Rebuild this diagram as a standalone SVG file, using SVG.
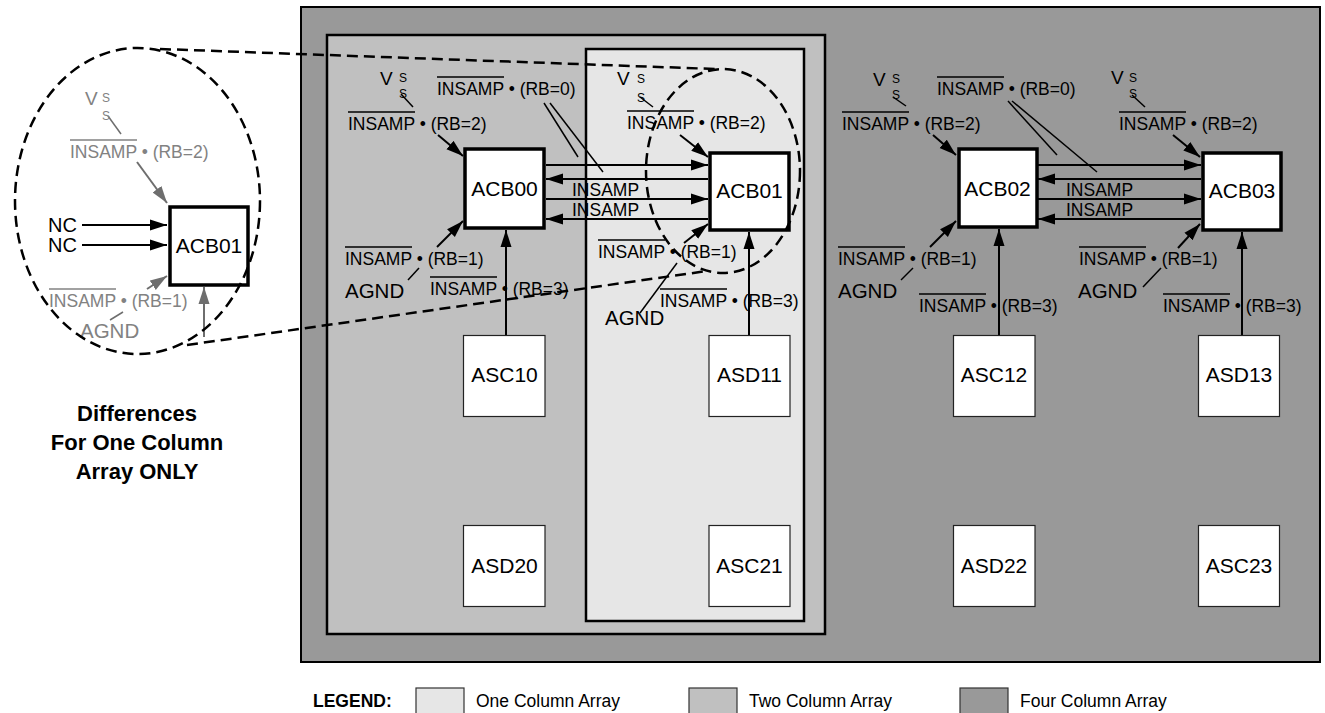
<svg xmlns="http://www.w3.org/2000/svg" width="1325" height="713" viewBox="0 0 1325 713">
<defs>
<marker id="ah" markerUnits="userSpaceOnUse" markerWidth="18" markerHeight="12" refX="17" refY="6" orient="auto"><path d="M0,0.5 L17,6 L0,11.5 z" fill="#000"/></marker>
<marker id="ahg" markerUnits="userSpaceOnUse" markerWidth="18" markerHeight="12" refX="17" refY="6" orient="auto"><path d="M0,0.5 L17,6 L0,11.5 z" fill="#6e6e6e"/></marker>
<style>
text{font-family:"Liberation Sans",Arial,sans-serif;fill:#000}
.l{font-size:17.5px}
.big{font-size:20.5px}
.nc{font-size:20px}
.s{font-size:12px}
.v{font-size:19px}
.bx{font-size:21px;text-anchor:middle}
.g{fill:#828282}
.ol{stroke:#000;stroke-width:1.3}
.olg{stroke:#828282;stroke-width:1.3}
.acb{fill:#fff;stroke:#000;stroke-width:3.5}
.as{fill:#fff;stroke:#222;stroke-width:1.2}
.c{stroke:#000;stroke-width:2;fill:none}
.cg{stroke:#6e6e6e;stroke-width:2;fill:none}
.ld{stroke:#000;stroke-width:1.5}
.ldg{stroke:#6e6e6e;stroke-width:1.5}
.dash{fill:none;stroke:#000;stroke-width:2.5;stroke-dasharray:11 6}
.lg{font-size:17.5px}
.lgb{font-size:17.5px;font-weight:bold}
.cap{font-size:22px;font-weight:bold;text-anchor:middle}
</style>
</defs>
<rect width="1325" height="713" fill="#fff"/>

<g id="regions">
<rect x="301" y="7" width="1019" height="655" fill="#999999" stroke="#000" stroke-width="2"/>
<rect x="327" y="35" width="498" height="599" fill="#c0c0c0" stroke="#000" stroke-width="2.5"/>
<rect x="586" y="49" width="218" height="572" fill="#e6e6e6" stroke="#000" stroke-width="2.5"/>
</g>

<g id="connectors">
<line class="c" x1="546" y1="165" x2="708" y2="165" marker-end="url(#ah)"/>
<line class="c" x1="708" y1="179" x2="546" y2="179" marker-end="url(#ah)"/>
<line class="c" x1="546" y1="199" x2="708" y2="199" marker-end="url(#ah)"/>
<line class="c" x1="708" y1="219" x2="546" y2="219" marker-end="url(#ah)"/>
<line class="c" x1="1038" y1="165" x2="1201" y2="165" marker-end="url(#ah)"/>
<line class="c" x1="1201" y1="179" x2="1038" y2="179" marker-end="url(#ah)"/>
<line class="c" x1="1038" y1="199" x2="1201" y2="199" marker-end="url(#ah)"/>
<line class="c" x1="1201" y1="219" x2="1038" y2="219" marker-end="url(#ah)"/>
<line class="c" x1="506" y1="335" x2="506" y2="230" marker-end="url(#ah)"/>
<line class="c" x1="749" y1="335" x2="749" y2="232" marker-end="url(#ah)"/>
<line class="c" x1="999" y1="335" x2="999" y2="229" marker-end="url(#ah)"/>
<line class="c" x1="1242" y1="335" x2="1242" y2="232" marker-end="url(#ah)"/>
<line class="c" x1="438" y1="135" x2="463" y2="156" marker-end="url(#ah)"/>
<line class="c" x1="437" y1="247" x2="463" y2="221" marker-end="url(#ah)"/>
<line class="c" x1="680" y1="135" x2="708" y2="157" marker-end="url(#ah)"/>
<line class="c" x1="684" y1="243" x2="708" y2="224" marker-end="url(#ah)"/>
<line class="c" x1="933" y1="135" x2="956" y2="155" marker-end="url(#ah)"/>
<line class="c" x1="930" y1="247" x2="956" y2="221" marker-end="url(#ah)"/>
<line class="c" x1="1173" y1="135" x2="1200" y2="157" marker-end="url(#ah)"/>
<line class="c" x1="1178" y1="248" x2="1200" y2="224" marker-end="url(#ah)"/>
<line class="ld" x1="408" y1="280" x2="419" y2="268"/>
<line class="ld" x1="544" y1="103" x2="578" y2="157"/>
<line class="ld" x1="550" y1="103" x2="603" y2="172"/>
<line class="ld" x1="640" y1="313" x2="677" y2="263"/>
<line class="ld" x1="901" y1="280" x2="913" y2="268"/>
<line class="ld" x1="1008" y1="101" x2="1057" y2="155"/>
<line class="ld" x1="1012" y1="101" x2="1097" y2="172"/>
<line class="ld" x1="1143" y1="287" x2="1161" y2="268"/>
<line class="ld" x1="401" y1="94" x2="413" y2="107"/>
<line class="ld" x1="640" y1="97" x2="653" y2="107"/>
<line class="ld" x1="893" y1="97" x2="906" y2="106"/>
<line class="ld" x1="1132" y1="95" x2="1145" y2="107"/>
<line class="ldg" x1="108" y1="116" x2="121" y2="134"/>
<line class="cg" x1="137" y1="162" x2="167" y2="203" marker-end="url(#ahg)"/>
<line class="c" x1="82" y1="225" x2="167" y2="225" marker-end="url(#ah)"/>
<line class="c" x1="82" y1="245" x2="167" y2="245" marker-end="url(#ah)"/>
<line class="cg" x1="147" y1="289" x2="167" y2="276" marker-end="url(#ahg)"/>
<line class="cg" x1="204" y1="337" x2="204" y2="287" marker-end="url(#ahg)"/>
<line class="ldg" x1="110" y1="320" x2="123" y2="312"/>
</g>

<g id="ACB00">
<rect class="acb" x="465" y="149" width="79" height="79"/>
<text class="bx" x="504.5" y="196">ACB00</text>
</g>
<g id="ACB01">
<rect class="acb" x="710" y="153" width="79" height="77"/>
<text class="bx" x="749.5" y="198">ACB01</text>
</g>
<g id="ACB02">
<rect class="acb" x="959" y="149" width="78" height="78"/>
<text class="bx" x="997.5" y="196">ACB02</text>
</g>
<g id="ACB03">
<rect class="acb" x="1203" y="153" width="78" height="77"/>
<text class="bx" x="1242" y="198">ACB03</text>
</g>
<g id="ASC10"><rect class="as" x="463.5" y="335.5" width="81.5" height="81"/><text class="bx" x="504.5" y="382">ASC10</text></g>
<g id="ASD11"><rect class="as" x="709" y="335.5" width="81" height="81"/><text class="bx" x="749.5" y="382">ASD11</text></g>
<g id="ASC12"><rect class="as" x="953.5" y="335.5" width="81.5" height="81"/><text class="bx" x="994" y="382">ASC12</text></g>
<g id="ASD13"><rect class="as" x="1198.5" y="335.5" width="81" height="81"/><text class="bx" x="1239" y="382">ASD13</text></g>
<g id="ASD20"><rect class="as" x="463.5" y="525.5" width="81.5" height="81"/><text class="bx" x="504.5" y="573">ASD20</text></g>
<g id="ASC21"><rect class="as" x="709" y="525.5" width="81" height="81"/><text class="bx" x="749.5" y="573">ASC21</text></g>
<g id="ASD22"><rect class="as" x="953.5" y="525.5" width="81.5" height="81"/><text class="bx" x="994" y="573">ASD22</text></g>
<g id="ASC23"><rect class="as" x="1198.5" y="525.5" width="81" height="81"/><text class="bx" x="1239" y="573">ASC23</text></g>

<g id="labels-ACB00">
<text class="v" x="380" y="85">V</text><text class="s" x="399" y="82">S</text><text class="s" x="399" y="98">S</text>
<text class="l" x="348" y="130">INSAMP • (RB=2)</text><line class="ol" x1="348" y1="112" x2="415" y2="112"/>
<text class="l" x="437" y="95">INSAMP • (RB=0)</text><line class="ol" x1="437" y1="77" x2="504" y2="77"/>
<text class="l" x="345" y="265">INSAMP • (RB=1)</text><line class="ol" x1="345" y1="247" x2="412" y2="247"/>
<text class="big" x="345" y="298">AGND</text>
<text class="l" x="430" y="295">INSAMP • (RB=3)</text><line class="ol" x1="430" y1="277" x2="497" y2="277"/>
<text class="l" x="572" y="196">INSAMP</text>
<text class="l" x="572" y="216">INSAMP</text>
</g>
<g id="labels-ACB01">
<text class="v" x="617" y="85">V</text><text class="s" x="637" y="83">S</text><text class="s" x="637" y="102">S</text>
<text class="l" x="627" y="129">INSAMP • (RB=2)</text><line class="ol" x1="627" y1="111" x2="694" y2="111"/>
<text class="l" x="598" y="258">INSAMP • (RB=1)</text><line class="ol" x1="598" y1="240" x2="665" y2="240"/>
<text class="big" x="605" y="325">AGND</text>
<text class="l" x="660" y="307">INSAMP • (RB=3)</text><line class="ol" x1="660" y1="289" x2="727" y2="289"/>
</g>
<g id="labels-ACB02">
<text class="v" x="873" y="86">V</text><text class="s" x="892" y="83">S</text><text class="s" x="892" y="99">S</text>
<text class="l" x="842" y="130">INSAMP • (RB=2)</text><line class="ol" x1="842" y1="112" x2="909" y2="112"/>
<text class="l" x="937" y="95">INSAMP • (RB=0)</text><line class="ol" x1="937" y1="77" x2="1004" y2="77"/>
<text class="l" x="838" y="265">INSAMP • (RB=1)</text><line class="ol" x1="838" y1="247" x2="905" y2="247"/>
<text class="big" x="838" y="298">AGND</text>
<text class="l" x="919" y="312">INSAMP • (RB=3)</text><line class="ol" x1="919" y1="294" x2="986" y2="294"/>
<text class="l" x="1066" y="196">INSAMP</text>
<text class="l" x="1066" y="216">INSAMP</text>
</g>
<g id="labels-ACB03">
<text class="v" x="1111" y="84">V</text><text class="s" x="1129" y="82">S</text><text class="s" x="1129" y="98">S</text>
<text class="l" x="1119" y="130">INSAMP • (RB=2)</text><line class="ol" x1="1119" y1="112" x2="1186" y2="112"/>
<text class="l" x="1079" y="265">INSAMP • (RB=1)</text><line class="ol" x1="1079" y1="247" x2="1146" y2="247"/>
<text class="big" x="1078" y="298">AGND</text>
<text class="l" x="1163" y="312">INSAMP • (RB=3)</text><line class="ol" x1="1163" y1="294" x2="1230" y2="294"/>
</g>

<g id="callout-ACB01">
<rect class="acb" x="170" y="207" width="78" height="78"/>
<text class="bx" x="209" y="253">ACB01</text>
<text class="nc" x="48" y="232">NC</text>
<text class="nc" x="48" y="252">NC</text>
<text class="v g" x="85" y="105">V</text><text class="s g" x="102" y="102">S</text><text class="s g" x="102" y="120">S</text>
<text class="l g" x="70" y="158">INSAMP • (RB=2)</text><line class="olg" x1="70" y1="140" x2="137" y2="140"/>
<text class="l g" x="49" y="307">INSAMP • (RB=1)</text><line class="olg" x1="49" y1="289" x2="116" y2="289"/>
<text class="big g" x="80" y="338">AGND</text>
</g>

<g id="callout-lines">
<ellipse class="dash" cx="137.5" cy="201" rx="122.5" ry="153"/>
<ellipse class="dash" cx="723" cy="171" rx="77" ry="102"/>
<line class="dash" x1="160" y1="49" x2="715" y2="69"/>
<line class="dash" x1="187" y1="345" x2="707" y2="271"/>
</g>

<g id="note">
<text class="cap" x="137" y="421">Differences</text>
<text class="cap" x="137" y="450">For One Column</text>
<text class="cap" x="137" y="479">Array ONLY</text>
</g>

<g id="legend">
<text class="lgb" x="313" y="707">LEGEND:</text>
<rect x="416" y="688" width="48" height="32" fill="#e6e6e6" stroke="#333" stroke-width="1.2"/>
<text class="lg" x="476" y="707">One Column Array</text>
<rect x="689" y="688" width="48" height="32" fill="#c0c0c0" stroke="#333" stroke-width="1.2"/>
<text class="lg" x="749" y="707">Two Column Array</text>
<rect x="960" y="688" width="48" height="32" fill="#999999" stroke="#333" stroke-width="1.2"/>
<text class="lg" x="1020" y="707">Four Column Array</text>
</g>
</svg>
